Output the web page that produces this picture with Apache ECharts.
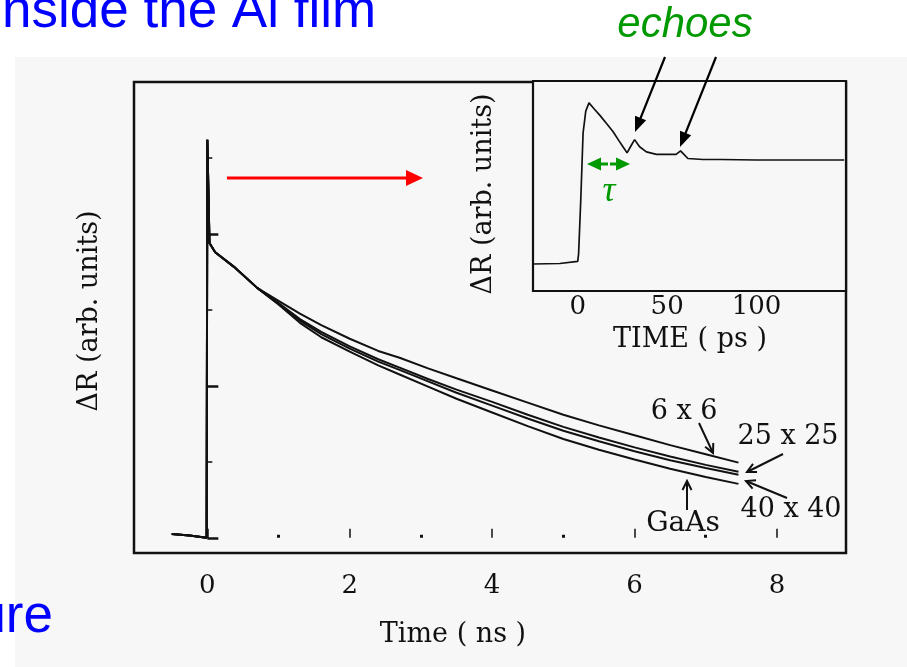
<!DOCTYPE html>
<html><head><meta charset="utf-8">
<script src="https://cdn.jsdelivr.net/npm/echarts@6/dist/echarts.min.js"></script>
<style>html,body{margin:0;padding:0;background:#fff}#c{width:907px;height:667px}</style>
</head><body><div id="c"></div>
<script>
// ---- Main chart data (time in ns, ΔR arb. units) ----
const commonT = [-0.5, -0.25, -0.01, 0, 0, 0.03, 0.11, 0.37, 0.7];
const commonV = [0.05, 0.03, 0.0, 0.0, 5.24, 3.88, 3.76, 3.57, 3.29];
const tailT   = [1.0, 1.3, 1.6, 2.0, 2.4, 2.7, 3.1, 3.5, 4.0, 4.5, 5.0, 5.5, 6.0, 6.5, 7.0, 7.46];
const v6x6    = [3.12, 2.95, 2.80, 2.62, 2.46, 2.37, 2.23, 2.10, 1.94, 1.78, 1.62, 1.48, 1.35, 1.22, 1.10, 0.99];
const v25x25  = [3.09, 2.88, 2.71, 2.52, 2.35, 2.24, 2.09, 1.95, 1.79, 1.62, 1.46, 1.32, 1.19, 1.07, 0.96, 0.87];
const v40x40  = [3.08, 2.86, 2.68, 2.49, 2.32, 2.21, 2.06, 1.91, 1.74, 1.57, 1.41, 1.27, 1.14, 1.02, 0.92, 0.83];
const vGaAs   = [3.07, 2.83, 2.64, 2.45, 2.27, 2.15, 1.99, 1.83, 1.65, 1.47, 1.30, 1.16, 1.03, 0.91, 0.80, 0.71];
const mainXTicks = [0, 2, 4, 6, 8];
const mainXMinor = [1, 3, 5, 7];
const mainYTicks = [0, 2, 4];
const mainYMinor = [1, 3, 5];

// ---- Inset data (time in ps) ----
const insetT = [-25, -10, 0, 0.5, 1.7, 3, 4.5, 6.3, 9, 12.3, 16, 19.7, 23, 25.3, 27.6, 29.5, 31.8, 34.6, 38.4, 44, 50, 55, 57.5, 61.6, 70, 80, 100, 120, 149];
const insetV = [0.0, 0.01, 0.05, 0.2, 1.25, 2.57, 3.0, 3.16, 3.05, 2.92, 2.76, 2.6, 2.42, 2.3, 2.18, 2.3, 2.44, 2.3, 2.2, 2.15, 2.15, 2.15, 2.22, 2.07, 2.05, 2.05, 2.04, 2.04, 2.04];
const insetXLabels = [0, 50, 100];
const insetXTicks = [0, 25, 50, 75, 100, 125];
const insetYTicks = [0, 1, 2, 3];

function pairs(ts, vs) { return ts.map((t, i) => [t, vs[i]]); }
function curve(tail) { return pairs(commonT, commonV).concat(pairs(tailT, tail)); }

const SERIF = '"DejaVu Serif", "Liberation Serif", serif';
const INK = '#111';

function arrow(x1, y1, x2, y2, color, width, len, w, open) {
  const dx = x2 - x1, dy = y2 - y1, L = Math.hypot(dx, dy);
  const ux = dx / L, uy = dy / L, nx = -uy, ny = ux;
  const bx = x2 - ux * len, by = y2 - uy * len;
  const p1 = [bx + nx * w / 2, by + ny * w / 2], p2 = [bx - nx * w / 2, by - ny * w / 2];
  const els = [{
    type: 'polyline', z: 50,
    shape: { points: [[x1, y1], open ? [x2, y2] : [x2 - ux * len * 0.6, y2 - uy * len * 0.6]] },
    style: { stroke: color, lineWidth: width, fill: null }
  }];
  if (open) {
    els.push({ type: 'polyline', z: 50, shape: { points: [p1, [x2, y2], p2] },
      style: { stroke: color, lineWidth: width, fill: null } });
  } else {
    els.push({ type: 'polygon', z: 50, shape: { points: [p1, [x2, y2], p2] },
      style: { fill: color } });
  }
  return els;
}
function txt(text, x, y, font, fill, align, rot) {
  return { type: 'text', z: 60, x: x, y: y, rotation: rot || 0,
    style: { text: text, font: font, fill: fill, textAlign: align || 'center', textVerticalAlign: 'middle' } };
}

const chart = echarts.init(document.getElementById('c'));
const graphics = [
  { type: 'rect', z: -100, shape: { x: 15, y: 57, width: 900, height: 620 }, style: { fill: '#f7f7f7' } },
  txt('nside the Al film', 2, 12, '53px "Liberation Sans", Arial, sans-serif', '#0000ff', 'left'),
  txt('ure', 53, 617, '53px "Liberation Sans", Arial, sans-serif', '#0000ff', 'right'),
  txt('echoes', 685, 25, 'italic 42px "Liberation Sans", Arial, sans-serif', '#009900'),
  txt('τ', 609, 192, 'italic 36px "Liberation Serif", "DejaVu Serif", serif', '#009900'),
  txt('ΔR (arb. units)', 90, 311, '27px ' + SERIF, INK, 'center', Math.PI / 2),
  txt('ΔR (arb. units)', 484, 194, '27px ' + SERIF, INK, 'center', Math.PI / 2),
  txt('Time ( ns )', 453, 635, '27px ' + SERIF, INK),
  txt('TIME ( ps )', 690, 340, '27px ' + SERIF, INK),
  txt('6 x 6', 684, 412, '27px ' + SERIF, INK),
  txt('25 x 25', 788, 437, '27px ' + SERIF, INK),
  txt('40 x 40', 791, 510, '27px ' + SERIF, INK),
  txt('GaAs', 683, 524, '28px ' + SERIF, INK)
].concat(
  arrow(227, 178, 423, 178, '#ff0000', 3, 17, 16, false),
  arrow(665, 57, 635, 132, '#000', 2.2, 15, 12, false),
  arrow(716, 57, 680, 147, '#000', 2.2, 15, 12, false),
  arrow(610, 164, 630, 164, '#009900', 3, 14, 13, false),
  arrow(608, 164, 587, 164, '#009900', 3, 14, 13, false),
  arrow(699, 423, 713, 453, INK, 2, 9, 9, true),
  arrow(783, 454, 747, 472, INK, 2, 9, 9, true),
  arrow(787, 498, 746, 481, INK, 2, 9, 9, true),
  arrow(687, 510, 687, 481, INK, 2, 9, 9, true)
);

const tickLabel = { fontFamily: '"DejaVu Serif", serif', fontSize: 26, color: INK };
const lineS = (data, xi, yi, w) => ({
  type: 'line', xAxisIndex: xi, yAxisIndex: yi, data: data, showSymbol: false, symbol: 'none',
  lineStyle: { color: INK, width: w }, animation: false, clip: true, silent: true
});

chart.setOption({
  animation: false,
  backgroundColor: '#ffffff',
  grid: [
    { left: 134, top: 82, width: 712, height: 471, show: true, borderColor: INK, borderWidth: 2.5, backgroundColor: 'transparent' },
    { left: 533, top: 81, width: 313, height: 210, show: true, borderColor: INK, borderWidth: 2.2, backgroundColor: '#f7f7f7', z: 5 }
  ],
  xAxis: [
    { type: 'value', gridIndex: 0, min: -1.03, max: 8.97, position: 'bottom',
      axisLine: { show: false }, splitLine: { show: false },
      axisTick: { show: true, inside: true, length: 9, customValues: mainXTicks, lineStyle: { color: INK, width: 1.5 } },
      axisLabel: { show: true, customValues: mainXTicks, margin: 20, ...tickLabel } },
    { type: 'value', gridIndex: 0, min: -1.03, max: 8.97, position: 'bottom', offset: 0,
      axisLine: { show: false }, splitLine: { show: false },
      axisTick: { show: true, inside: true, length: 3, customValues: mainXMinor, lineStyle: { color: INK, width: 3 } },
      axisLabel: { show: false } },
    { type: 'value', gridIndex: 1, min: -25, max: 150, position: 'bottom',
      axisLine: { show: false }, splitLine: { show: false },
      axisTick: { show: true, inside: true, length: 5, customValues: insetXTicks, lineStyle: { color: INK, width: 1.2 } },
      axisLabel: { show: true, customValues: insetXLabels, margin: 3, ...tickLabel } }
  ],
  yAxis: [
    { type: 'value', gridIndex: 0, min: -0.2, max: 6.0, position: 'left',
      axisLine: { show: false }, splitLine: { show: false }, axisLabel: { show: false },
      axisTick: { show: true, inside: true, length: 11, customValues: mainYTicks, lineStyle: { color: INK, width: 2.5 } } },
    { type: 'value', gridIndex: 0, min: -0.2, max: 6.0, position: 'left', offset: 0,
      axisLine: { show: false }, splitLine: { show: false }, axisLabel: { show: false },
      axisTick: { show: true, inside: true, length: 5, customValues: mainYMinor, lineStyle: { color: INK, width: 1.5 } } },
    { type: 'value', gridIndex: 1, min: -0.53, max: 3.59, position: 'left',
      axisLine: { show: false }, splitLine: { show: false }, axisLabel: { show: false },
      axisTick: { show: true, inside: true, length: 5, customValues: insetYTicks, lineStyle: { color: INK, width: 1.5 } } }
  ],
  series: [
    lineS(curve(v6x6), 0, 0, 2),
    lineS(curve(v25x25), 0, 0, 2),
    lineS(curve(v40x40), 0, 0, 2),
    lineS(curve(vGaAs), 0, 0, 2),
    Object.assign(lineS(pairs(insetT, insetV), 2, 2, 1.7), { z: 6 })
  ],
  graphic: { elements: graphics }
});
</script>
</body></html>
